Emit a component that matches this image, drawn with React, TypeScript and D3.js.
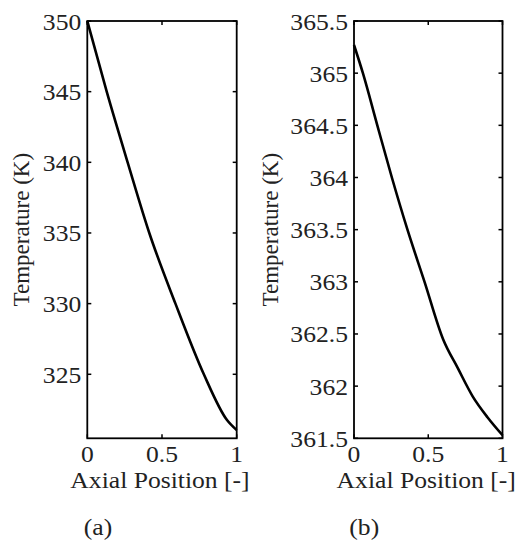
import React from "react";
import * as d3 from "d3";

// Axial temperature profiles, panel (a) and panel (b)
const positionA = [0, 0.13, 0.27, 0.415, 0.59, 0.78, 0.935, 1];
const temperatureA = [350, 345, 340, 335, 330, 325, 321.76, 321.05];

const positionB = [0, 0.06, 0.157, 0.255, 0.36, 0.475, 0.6, 0.7, 0.8, 0.9, 1];
const temperatureB = [365.27, 365, 364.5, 364, 363.5, 363, 362.45, 362.17, 361.9, 361.7, 361.53];

const xTicks = [0, 0.5, 1];
const xTickLabels = ["0", "0.5", "1"];
const yTicksA = [325, 330, 335, 340, 345, 350];
const yTickLabelsA = ["325", "330", "335", "340", "345", "350"];
const yTicksB = [361.5, 362, 362.5, 363, 363.5, 364, 364.5, 365, 365.5];
const yTickLabelsB = ["361.5", "362", "362.5", "363", "363.5", "364", "364.5", "365", "365.5"];

const xLabel = "Axial Position [-]";
const yLabel = "Temperature (K)";
const panelTags = ["(a)", "(b)"];

const FONT = "'Liberation Serif', 'Times New Roman', serif";
const TEXT = "#222";
const FS = 23.5;
const SX = 1.09;

type PanelProps = {
  left: number;
  right: number;
  top: number;
  bottom: number;
  yDomain: [number, number];
  xs: number[];
  ys: number[];
  yTicks: number[];
  yTickLabels: string[];
  yLabelX: number;
  tag: string;
};

function HText({ x, y, anchor, children }: { x: number; y: number; anchor: string; children: React.ReactNode }) {
  return (
    <text
      transform={`translate(${x},${y}) scale(${SX},1)`}
      textAnchor={anchor}
      fontFamily={FONT}
      fontSize={FS}
      fill={TEXT}
    >
      {children}
    </text>
  );
}

function Panel(p: PanelProps) {
  const x = d3.scaleLinear().domain([0, 1]).range([p.left, p.right]);
  const y = d3.scaleLinear().domain(p.yDomain).range([p.bottom, p.top]);
  const pts: [number, number][] = p.xs.map((v, i) => [v, p.ys[i]]);
  const line = d3
    .line<[number, number]>()
    .x((d) => x(d[0]))
    .y((d) => y(d[1]))
    .curve(d3.curveMonotoneX);
  const tickLen = 4;
  const cx = (p.left + p.right) / 2;
  const cy = (p.top + p.bottom) / 2;
  return (
    <g>
      <path d={line(pts) ?? ""} fill="none" stroke="#000" strokeWidth={2.6} strokeLinejoin="round" />
      {/* inward ticks on all four sides */}
      {xTicks.map((t) => (
        <g key={"xt" + t}>
          <line x1={x(t)} x2={x(t)} y1={p.bottom} y2={p.bottom - tickLen} stroke="#000" strokeWidth={1.5} />
          <line x1={x(t)} x2={x(t)} y1={p.top} y2={p.top + tickLen} stroke="#000" strokeWidth={1.5} />
        </g>
      ))}
      {p.yTicks.map((t) => (
        <g key={"yt" + t}>
          <line x1={p.left} x2={p.left + tickLen} y1={y(t)} y2={y(t)} stroke="#000" strokeWidth={1.5} />
          <line x1={p.right} x2={p.right - tickLen} y1={y(t)} y2={y(t)} stroke="#000" strokeWidth={1.5} />
        </g>
      ))}
      <rect
        x={p.left}
        y={p.top}
        width={p.right - p.left}
        height={p.bottom - p.top}
        fill="none"
        stroke="#000"
        strokeWidth={1.8}
      />
      {xTicks.map((t, i) => (
        <HText key={"xl" + t} x={x(t)} y={p.bottom + 24} anchor="middle">
          {xTickLabels[i]}
        </HText>
      ))}
      {p.yTicks.map((t, i) => (
        <HText key={"yl" + t} x={p.left - 6} y={y(t) + 8.5} anchor="end">
          {p.yTickLabels[i]}
        </HText>
      ))}
      <HText x={cx - 2} y={p.bottom + 50} anchor="middle">
        {xLabel}
      </HText>
      <text
        transform={`translate(${p.yLabelX},${cy}) rotate(-90)`}
        textAnchor="middle"
        fontFamily={FONT}
        fontSize={23}
        fill={TEXT}
      >
        {yLabel}
      </text>
      <HText x={cx - 64} y={535} anchor="middle">
        {p.tag}
      </HText>
    </g>
  );
}

export default function App() {
  return (
    <svg
      width={517}
      height={541}
      viewBox="0 0 517 541"
      style={{ position: "absolute", left: 0, top: 0, background: "#fff" }}
    >
      <rect width={517} height={541} fill="#fff" />
      <Panel
        left={87.3}
        right={236.7}
        top={21}
        bottom={438.3}
        yDomain={[320.47, 350]}
        xs={positionA}
        ys={temperatureA}
        yTicks={yTicksA}
        yTickLabels={yTickLabelsA}
        yLabelX={29}
        tag={panelTags[0]}
      />
      <Panel
        left={354}
        right={502.5}
        top={21}
        bottom={438.3}
        yDomain={[361.5, 365.5]}
        xs={positionB}
        ys={temperatureB}
        yTicks={yTicksB}
        yTickLabels={yTickLabelsB}
        yLabelX={278}
        tag={panelTags[1]}
      />
    </svg>
  );
}
